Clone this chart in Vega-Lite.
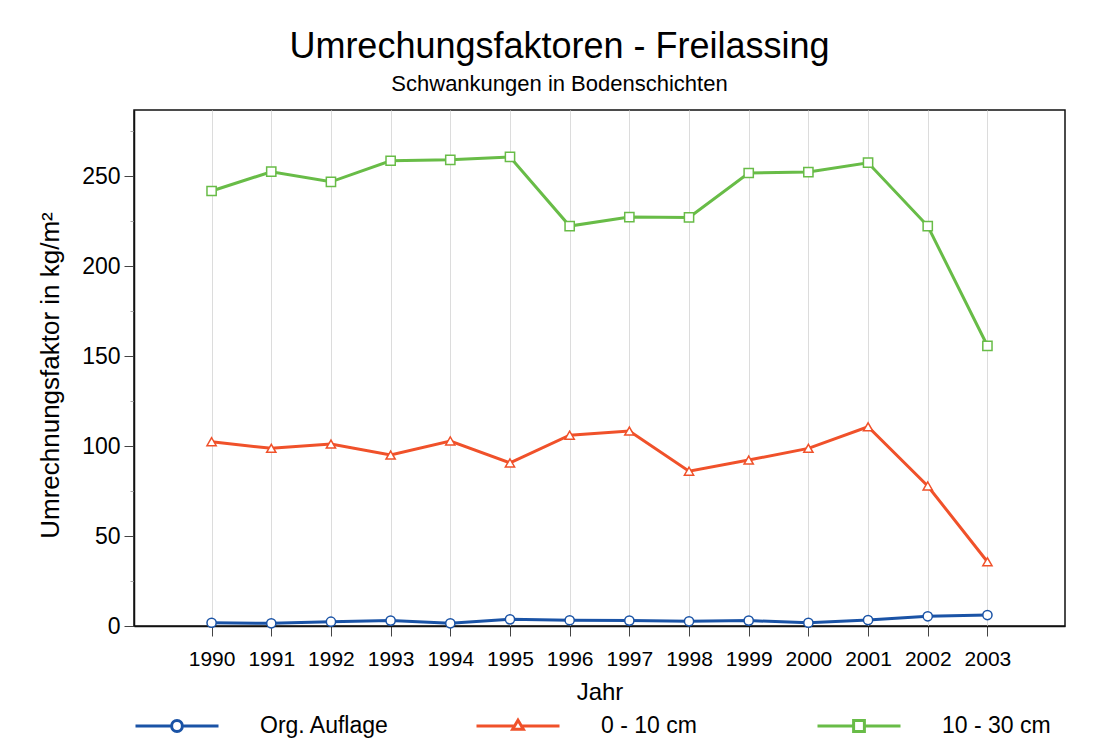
{
  "$schema": "https://vega.github.io/schema/vega-lite/v6.json",
  "width": 931,
  "height": 516,
  "autosize": {"type": "none"},
  "padding": {"left": 134, "top": 110, "right": 43, "bottom": 121},
  "background": "white",
  "title": {
    "text": "Umrechungsfaktoren - Freilassing",
    "subtitle": "Schwankungen in Bodenschichten",
    "anchor": "middle",
    "frame": "group",
    "dx": -40,
    "offset": 14,
    "font": "Liberation Sans",
    "fontSize": 36,
    "fontWeight": "normal",
    "color": "black",
    "subtitleFont": "Liberation Sans",
    "subtitleFontSize": 22,
    "subtitleColor": "black",
    "subtitlePadding": 8
  },
  "data": {
    "values": [
      {"Jahr": 1990, "s": "Org. Auflage", "v": 1.8},
      {"Jahr": 1991, "s": "Org. Auflage", "v": 1.5},
      {"Jahr": 1992, "s": "Org. Auflage", "v": 2.4},
      {"Jahr": 1993, "s": "Org. Auflage", "v": 3.0},
      {"Jahr": 1994, "s": "Org. Auflage", "v": 1.5},
      {"Jahr": 1995, "s": "Org. Auflage", "v": 3.7},
      {"Jahr": 1996, "s": "Org. Auflage", "v": 3.2},
      {"Jahr": 1997, "s": "Org. Auflage", "v": 3.0},
      {"Jahr": 1998, "s": "Org. Auflage", "v": 2.6},
      {"Jahr": 1999, "s": "Org. Auflage", "v": 3.0},
      {"Jahr": 2000, "s": "Org. Auflage", "v": 1.8},
      {"Jahr": 2001, "s": "Org. Auflage", "v": 3.3},
      {"Jahr": 2002, "s": "Org. Auflage", "v": 5.4},
      {"Jahr": 2003, "s": "Org. Auflage", "v": 6.1},
      {"Jahr": 1990, "s": "0 - 10 cm", "v": 102.4},
      {"Jahr": 1991, "s": "0 - 10 cm", "v": 98.7},
      {"Jahr": 1992, "s": "0 - 10 cm", "v": 101.1},
      {"Jahr": 1993, "s": "0 - 10 cm", "v": 95.0},
      {"Jahr": 1994, "s": "0 - 10 cm", "v": 102.8},
      {"Jahr": 1995, "s": "0 - 10 cm", "v": 90.6},
      {"Jahr": 1996, "s": "0 - 10 cm", "v": 106.0},
      {"Jahr": 1997, "s": "0 - 10 cm", "v": 108.3},
      {"Jahr": 1998, "s": "0 - 10 cm", "v": 86.0},
      {"Jahr": 1999, "s": "0 - 10 cm", "v": 92.2},
      {"Jahr": 2000, "s": "0 - 10 cm", "v": 98.7},
      {"Jahr": 2001, "s": "0 - 10 cm", "v": 110.7},
      {"Jahr": 2002, "s": "0 - 10 cm", "v": 77.8},
      {"Jahr": 2003, "s": "0 - 10 cm", "v": 35.7},
      {"Jahr": 1990, "s": "10 - 30 cm", "v": 241.7},
      {"Jahr": 1991, "s": "10 - 30 cm", "v": 252.4},
      {"Jahr": 1992, "s": "10 - 30 cm", "v": 246.8},
      {"Jahr": 1993, "s": "10 - 30 cm", "v": 258.5},
      {"Jahr": 1994, "s": "10 - 30 cm", "v": 259.0},
      {"Jahr": 1995, "s": "10 - 30 cm", "v": 260.6},
      {"Jahr": 1996, "s": "10 - 30 cm", "v": 222.2},
      {"Jahr": 1997, "s": "10 - 30 cm", "v": 227.2},
      {"Jahr": 1998, "s": "10 - 30 cm", "v": 227.0},
      {"Jahr": 1999, "s": "10 - 30 cm", "v": 251.7},
      {"Jahr": 2000, "s": "10 - 30 cm", "v": 252.2},
      {"Jahr": 2001, "s": "10 - 30 cm", "v": 257.4},
      {"Jahr": 2002, "s": "10 - 30 cm", "v": 222.2},
      {"Jahr": 2003, "s": "10 - 30 cm", "v": 155.7}
    ]
  },
  "encoding": {
    "x": {
      "field": "Jahr",
      "type": "quantitative",
      "title": "Jahr",
      "scale": {"domain": [1988.7, 2004.3], "nice": false, "zero": false},
      "axis": {
        "values": [1990, 1990.5, 1991, 1991.5, 1992, 1992.5, 1993, 1993.5, 1994, 1994.5, 1995, 1995.5, 1996, 1996.5, 1997, 1997.5, 1998, 1998.5, 1999, 1999.5, 2000, 2000.5, 2001, 2001.5, 2002, 2002.5, 2003],
        "labelExpr": "datum.value % 1 === 0 ? datum.label : ''",
        "format": "d",
        "labelOverlap": false,
        "labelFlush": false,
        "grid": true,
        "gridColor": "#dcdcdc",
        "gridOpacity": {"condition": {"test": "datum.value % 1 === 0", "value": 1}, "value": 0},
        "tickSize": {"condition": {"test": "datum.value % 1 === 0", "value": 10}, "value": 4},
        "tickColor": {"condition": {"test": "datum.value % 1 === 0", "value": "#444444"}, "value": "#aaaaaa"},
        "labelFontSize": 21,
        "labelPadding": 12,
        "titlePadding": 11
      }
    },
    "y": {
      "field": "v",
      "type": "quantitative",
      "title": "Umrechnungsfaktor in kg/m²",
      "scale": {"domain": [0, 286.7], "nice": false},
      "axis": {
        "values": [0, 25, 50, 75, 100, 125, 150, 175, 200, 225, 250, 275],
        "labelExpr": "datum.value % 50 === 0 ? datum.label : ''",
        "labelOverlap": false,
        "labelFlush": false,
        "grid": false,
        "tickSize": {"condition": {"test": "datum.value % 50 === 0", "value": 10}, "value": 4},
        "tickColor": {"condition": {"test": "datum.value % 50 === 0", "value": "#444444"}, "value": "#aaaaaa"},
        "labelFontSize": 23,
        "labelPadding": 4,
        "titleFontSize": 26,
        "titlePadding": 18,
        "titleY": 265
      }
    }
  },
  "layer": [
    {
      "mark": {"type": "line", "strokeWidth": 3},
      "encoding": {
        "color": {
          "field": "s",
          "type": "nominal",
          "scale": {"domain": ["Org. Auflage", "0 - 10 cm", "10 - 30 cm"], "range": ["#1a53a6", "#f0512a", "#68bc47"]},
          "legend": {
            "encode": {
              "symbols": {
                "update": {
                  "shape": {"signal": "datum.value === 'Org. Auflage' ? 'M-1,0H-0.13M0.13,0H1M0.13,0A0.13,0.13,0,1,1,-0.13,0A0.13,0.13,0,1,1,0.13,0Z' : (datum.value === '0 - 10 cm' ? 'M-1,0H-0.085M0.085,0H1M0,-0.14L0.13,0.08L-0.13,0.08Z' : 'M-1,0H-0.13M0.13,0H1M-0.13,-0.13H0.13V0.13H-0.13Z')"},
                  "fill": {"value": "white"},
                  "strokeWidth": {"value": 3},
                  "opacity": {"value": 1}
                }
              }
            }
          }
        }
      }
    },
    {
      "mark": {"type": "point", "filled": false, "fill": "white", "strokeWidth": 1.5, "size": 85, "opacity": 1},
      "encoding": {
        "color": {"field": "s", "type": "nominal", "legend": null},
        "shape": {
          "field": "s",
          "type": "nominal",
          "scale": {"domain": ["Org. Auflage", "0 - 10 cm", "10 - 30 cm"], "range": ["circle", "triangle-up", "square"]},
          "legend": null
        }
      }
    }
  ],
  "resolve": {"legend": {"color": "independent", "shape": "independent"}},
  "config": {
    "font": "Liberation Sans",
    "view": {"stroke": "#111111", "strokeWidth": 1.5},
    "axis": {
      "labelFont": "Liberation Sans",
      "labelColor": "black",
      "titleFont": "Liberation Sans",
      "titleFontSize": 24,
      "titleFontWeight": "normal",
      "titleColor": "black",
      "domainColor": "#111111",
      "domainWidth": 1.5,
      "tickWidth": 1
    },
    "legend": {
      "orient": "none",
      "legendX": 0,
      "legendY": 573,
      "direction": "horizontal",
      "columns": 3,
      "gridAlign": "all",
      "columnPadding": 80,
      "title": null,
      "symbolSize": 6889,
      "symbolStrokeWidth": 3,
      "symbolFillColor": "white",
      "symbolOpacity": 1,
      "labelFont": "Liberation Sans",
      "labelFontSize": 23,
      "labelColor": "black",
      "labelOffset": 40,
      "padding": 0
    }
  }
}
